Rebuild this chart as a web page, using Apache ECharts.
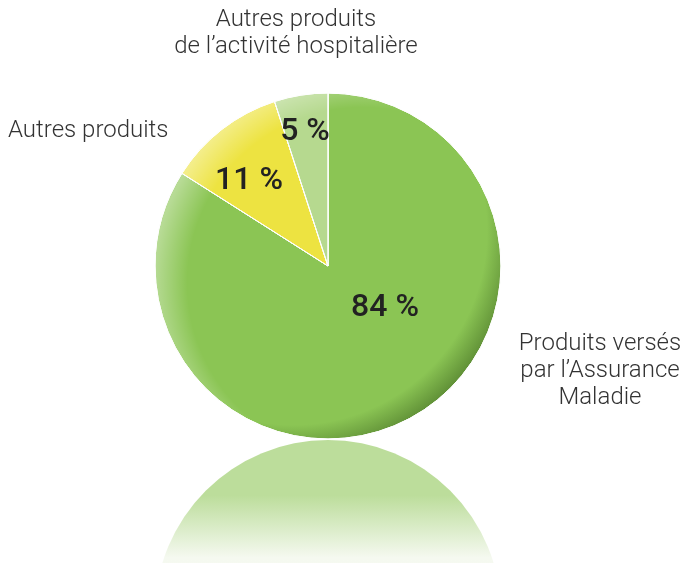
<!DOCTYPE html>
<html>
<head>
<meta charset="utf-8">
<script src="https://cdn.jsdelivr.net/npm/echarts@6/dist/echarts.min.js"></script>
<style>
  html, body { margin: 0; padding: 0; background: #fff; }
  #main { width: 682px; height: 563px; }
</style>
</head>
<body>
<div id="main"></div>
<script>
// parts des produits (%)
var categories = ['Produits versés\npar l’Assurance\nMaladie', 'Autres produits', 'Autres produits\nde l’activité hospitalière'];
var values = [84, 11, 5];
var sliceColors = ['#8bc554', '#ede341', '#b6d98f'];
var rimColors = ['#5f8f36', '#c9bd2a', '#93b96c'];

// emplacement des étiquettes
var pctPos = [[385, 308], [249, 181], [305, 132]];
var namePos = [[600, 371, 'center'], [8, 131, 'left'], [296, 33, 'center']];

var cx = 328, cy = 266, R = 173;

var chart = echarts.init(document.getElementById('main'));

function rimGradient(i) {
  return {
    type: 'radial', global: true,
    x: cx - 35, y: cy - 35, r: R + 50,
    colorStops: [
      { offset: 0, color: sliceColors[i] },
      { offset: 0.87, color: sliceColors[i] },
      { offset: 1, color: rimColors[i] }
    ]
  };
}

var lightGradient = {
  type: 'radial', global: true,
  x: cx + 35, y: cy + 17, r: 209,
  colorStops: [
    { offset: 0, color: 'rgba(255,255,255,0)' },
    { offset: 0.84, color: 'rgba(255,255,255,0)' },
    { offset: 1, color: 'rgba(255,255,255,0.38)' }
  ]
};

var option = {
  backgroundColor: '#fff',
  graphic: [
    {
      // reflet
      type: 'circle',
      shape: { cx: cx, cy: cy + 347, r: R },
      silent: true,
      style: {
        fill: {
          type: 'linear', x: 0, y: 0, x2: 0, y2: 1,
          colorStops: [
            { offset: 0, color: '#bcdd9b' },
            { offset: 0.16, color: '#bcdd9b' },
            { offset: 0.34, color: '#f5f9f0' },
            { offset: 1, color: '#ffffff' }
          ]
        }
      }
    }
  ],
  series: [
    {
      type: 'pie',
      center: [cx, cy],
      radius: [0, R],
      startAngle: 90,
      clockwise: true,
      silent: true,
      itemStyle: { borderColor: '#fff', borderWidth: 1 },
      label: {
        show: true,
        position: 'inside',
        formatter: '{c} %',
        fontFamily: 'Roboto',
        fontWeight: 500,
        fontSize: 32,
        color: '#222'
      },
      labelLine: { show: false },
      labelLayout: function (p) {
        var q = pctPos[p.dataIndex];
        return { x: q[0], y: q[1], align: 'center', verticalAlign: 'middle' };
      },
      data: values.map(function (v, i) {
        return { name: categories[i], value: v, itemStyle: { color: rimGradient(i) } };
      })
    },
    {
      // éclairage + étiquettes des catégories
      type: 'pie',
      center: [cx, cy],
      radius: [0, R],
      startAngle: 90,
      clockwise: true,
      silent: true,
      itemStyle: { color: lightGradient, borderWidth: 0 },
      label: {
        show: true,
        position: 'outside',
        formatter: '{b}',
        fontFamily: 'Roboto',
        fontWeight: 300,
        fontSize: 24,
        lineHeight: 27,
        color: '#333'
      },
      labelLine: { show: false },
      labelLayout: function (p) {
        var q = namePos[p.dataIndex];
        return { x: q[0], y: q[1], align: q[2], verticalAlign: 'middle' };
      },
      data: values.map(function (v, i) {
        return { name: categories[i], value: v, label: { align: namePos[i][2] } };
      })
    }
  ]
};

chart.setOption(option);
</script>
</body>
</html>
